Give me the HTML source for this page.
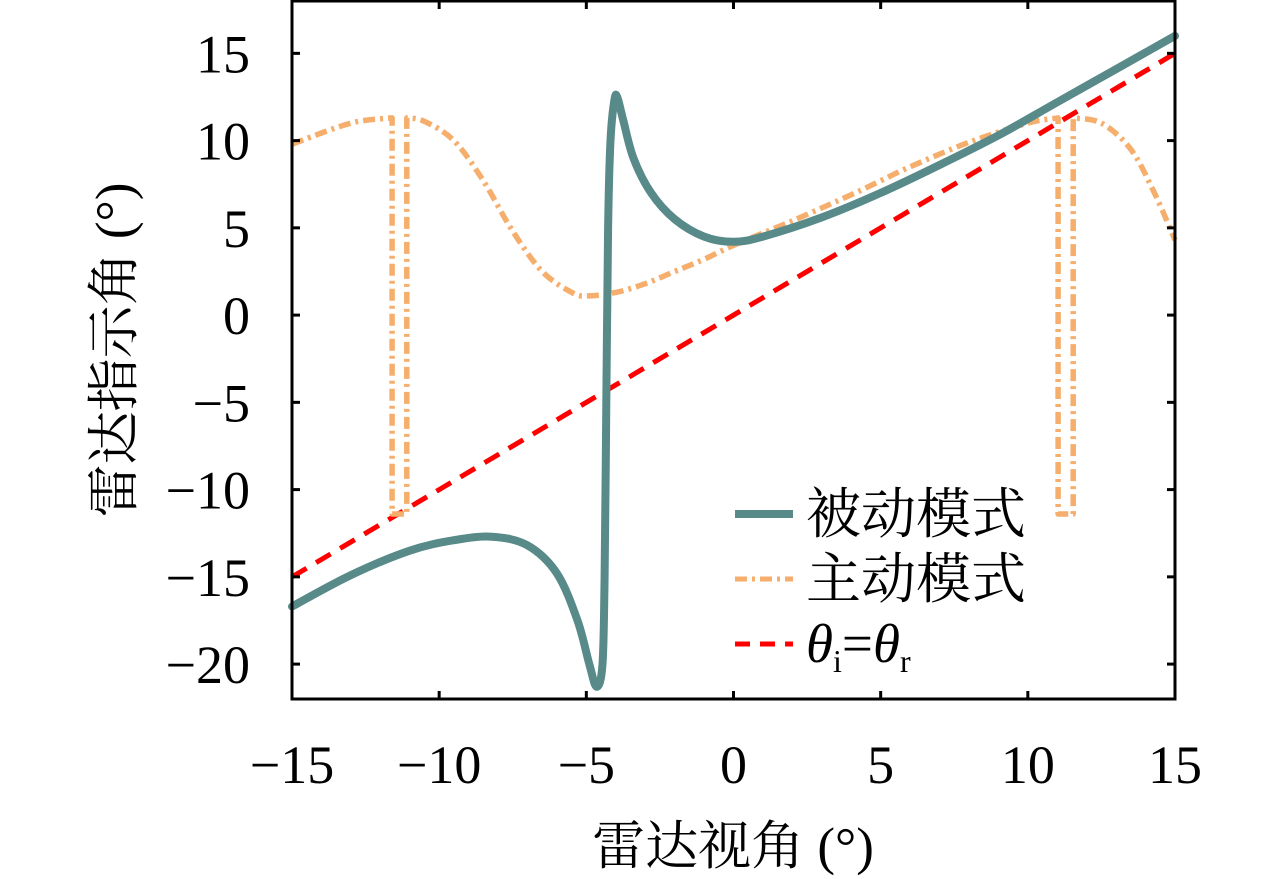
<!DOCTYPE html>
<html><head><meta charset="utf-8"><style>
html,body{margin:0;padding:0;background:#fff;}
svg{display:block;}
.tk{font-family:"Liberation Serif",serif;font-size:54px;fill:#000;}
.cj{font-family:"Liberation Serif","Noto Serif CJK SC",serif;fill:#000;}
</style></head><body>
<svg id="chart" width="1280" height="879" viewBox="0 0 1280 879">
<g id="plot"></g>
<g id="axes"></g>
<text class="cj" x="733" y="864" font-size="53" text-anchor="middle">雷达视角 (°)</text>
<text class="cj" transform="translate(132,350) rotate(-90)" font-size="53" text-anchor="middle">雷达指示角 (°)</text>
<g>
<g>
<line x1="735" y1="514" x2="793" y2="514" stroke="#588a89" stroke-width="8"/>
<text class="cj" x="806" y="533" font-size="55">被动模式</text></g>
<g>
<line x1="735" y1="579" x2="793" y2="579" stroke="#f6ae6c" stroke-width="5" stroke-dasharray="12,5,3,5"/>
<text class="cj" x="806" y="598" font-size="55">主动模式</text></g>
<g>
<line x1="735" y1="644" x2="793" y2="644" stroke="#f00" stroke-width="5" stroke-dasharray="15,10"/>
<text class="cj" x="806" y="662" font-size="55" font-style="italic">θ<tspan font-size="32" font-style="normal" dy="10">i</tspan><tspan dy="-10" font-style="normal">=</tspan>θ<tspan font-size="32" font-style="normal" dy="10">r</tspan></text></g>
</g>
</svg>
<script>
const xTicks=[-15,-10,-5,0,5,10,15];
const yTicks=[-20,-15,-10,-5,0,5,10,15];
const passiveX=[-15,-13,-11,-9.5,-8.2,-7,-6,-5.3,-4.9,-4.65,-4.45,-4.38,-4.32,-4.26,-4.18,-4.05,-3.95,-3.75,-3.4,-2.8,-2,-1,0,1,3,5,7,9,11,13,15];
const passiveY=[-16.7,-14.9,-13.5,-12.9,-12.7,-13.2,-14.8,-17.5,-20,-21.3,-20,-15,-5,5,10,12.3,12.5,11.2,9,7,5.5,4.5,4.2,4.5,5.6,7,8.6,10.3,12.2,14.1,16];
const activeX=[-15,-13,-11.6,-11.6,-11.1,-11.1,-10.5,-9.5,-8.5,-7.5,-6.5,-5.5,-5,-4,-3,-2,-1,0,2,4,5,6,8,10,11.03,11.03,11.54,11.54,12.5,13.5,14.3,15];
const activeY=[9.8,11,11.3,-11.4,-11.4,11.3,11.1,10,7.7,4.8,2.5,1.3,1.1,1.3,1.8,2.5,3.2,4,5.4,6.9,7.7,8.5,9.9,11,11.3,-11.4,-11.4,11.3,11,9.5,7,4.3];
const refX=[-15,15];
const refY=[-15,15];
const L=292,R=1175,T=1,B=699,XMIN=-15,XMAX=15,YMIN=-22,YMAX=18;
const sx=v=>L+(v-XMIN)/(XMAX-XMIN)*(R-L);
const sy=v=>B-(v-YMIN)/(YMAX-YMIN)*(B-T);
const NS="http://www.w3.org/2000/svg";
const plot=document.getElementById('plot'),axes=document.getElementById('axes');
function mk(t,a,p){const e=document.createElementNS(NS,t);for(const k in a)e.setAttribute(k,a[k]);p.appendChild(e);return e;}
function path(xs,ys){
 const P=xs.map((x,i)=>[sx(x),sy(ys[i])]);
 let d='M'+P[0][0].toFixed(1)+','+P[0][1].toFixed(1);
 for(let i=0;i<P.length-1;i++){
  const p1=P[i],p2=P[i+1];
  if(xs[i]===xs[i+1]){d+='L'+p2[0].toFixed(1)+','+p2[1].toFixed(1);continue;}
  const p0=(i>0&&xs[i-1]!==xs[i])?P[i-1]:p1;
  const p3=(i+2<P.length&&xs[i+2]!==xs[i+1])?P[i+2]:p2;
  const c1=[p1[0]+(p2[0]-p0[0])/6,p1[1]+(p2[1]-p0[1])/6];
  const c2=[p2[0]-(p3[0]-p1[0])/6,p2[1]-(p3[1]-p1[1])/6];
  d+='C'+c1[0].toFixed(1)+','+c1[1].toFixed(1)+' '+c2[0].toFixed(1)+','+c2[1].toFixed(1)+' '+p2[0].toFixed(1)+','+p2[1].toFixed(1);
 }
 return d;
}
let e;
e=mk('path',{d:path(refX,refY),fill:'none',stroke:'#f00','stroke-width':5,'stroke-dasharray':'17,11'},plot);


e=mk('path',{d:path(activeX,activeY),fill:'none',stroke:'#f6ae6c','stroke-width':5.5,'stroke-dasharray':'12,5,3,5','stroke-linejoin':'round'},plot);


e=mk('path',{d:path(passiveX,passiveY),fill:'none',stroke:'#588a89','stroke-width':8,'stroke-linejoin':'round','stroke-linecap':'round'},plot);


e=mk('rect',{x:L,y:T,width:R-L,height:B-T,fill:'none',stroke:'#000','stroke-width':3},axes);


xTicks.forEach(v=>{
 const x=sx(v);
 mk('line',{x1:x,y1:B,x2:x,y2:B-8,stroke:'#000','stroke-width':3},axes);
 mk('line',{x1:x,y1:T,x2:x,y2:T+8,stroke:'#000','stroke-width':3},axes);
 const t=mk('text',{x:x,y:783,'text-anchor':'middle',class:'tk'},axes);
 t.textContent=v<0?'\u2212'+(-v):String(v);
 
 
});
yTicks.forEach(v=>{
 const y=sy(v);
 mk('line',{x1:L,y1:y,x2:L+8,y2:y,stroke:'#000','stroke-width':3},axes);
 mk('line',{x1:R,y1:y,x2:R-8,y2:y,stroke:'#000','stroke-width':3},axes);
 const t=mk('text',{x:250,y:y+19,'text-anchor':'end',class:'tk'},axes);
 t.textContent=v<0?'\u2212'+(-v):String(v);
 
 
});
</script>
</body></html>
